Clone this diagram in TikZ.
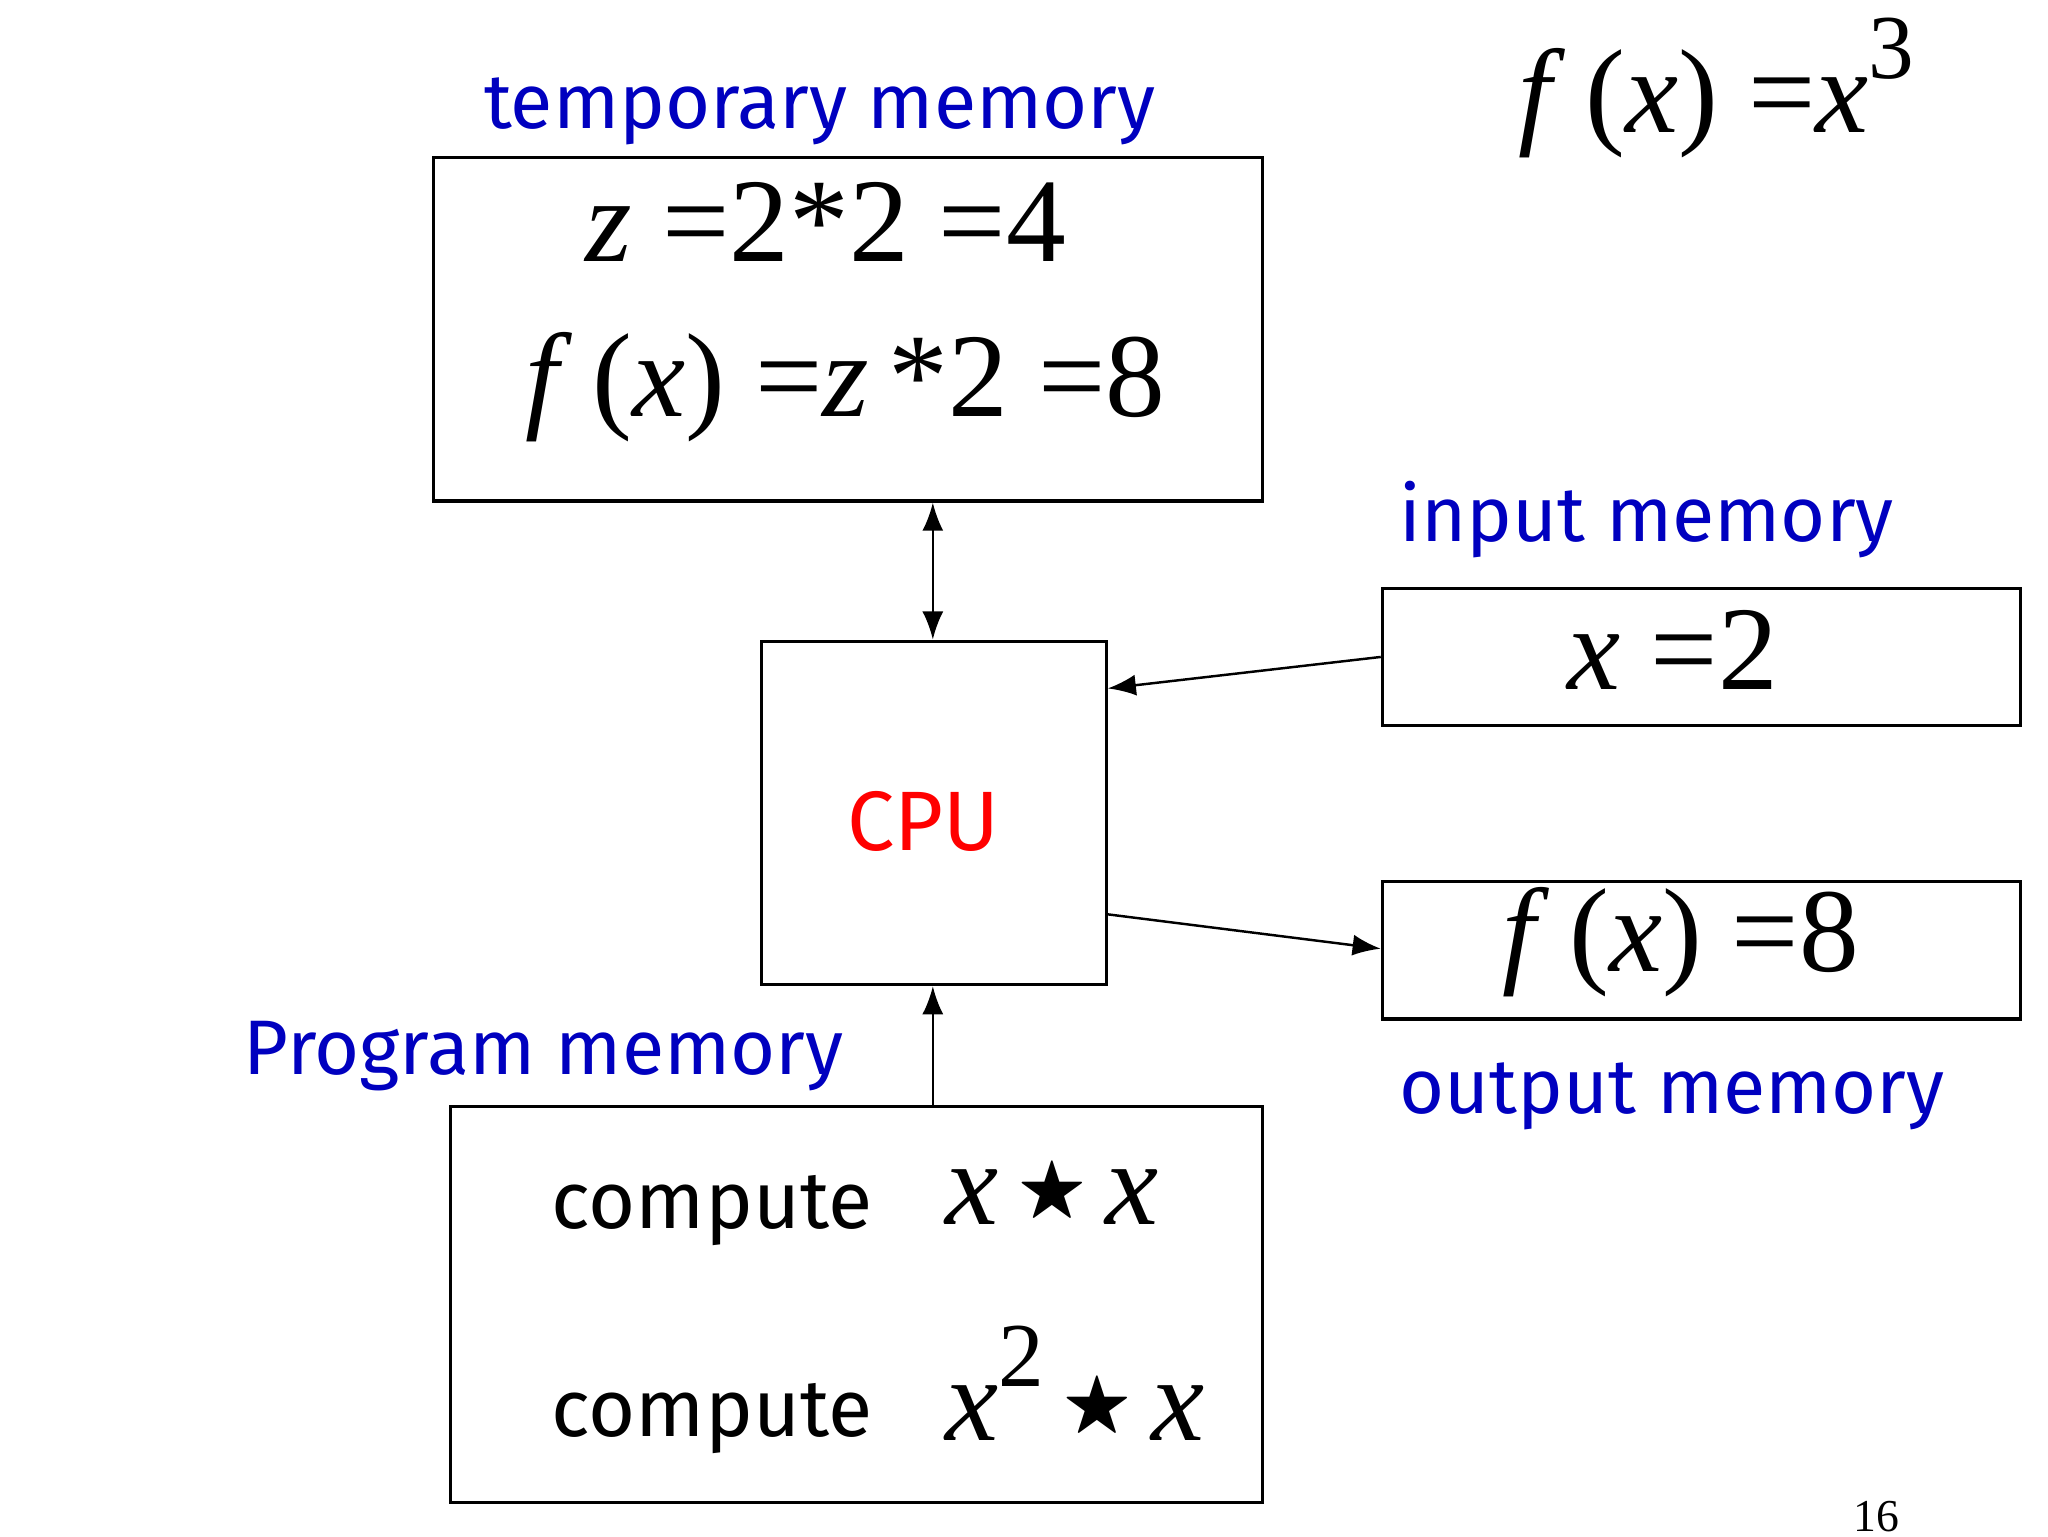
\documentclass[tikz,border=0pt]{standalone}
\usepackage{amssymb}
\usepackage{graphicx}
\usepackage{fontspec}
\setmainfont{Liberation Serif}
\newfontfamily\lbl{Fira Sans}
\usetikzlibrary{arrows.meta}
\newcommand{\mystar}{\,\raisebox{0.12em}{\scalebox{0.6}{$\bigstar$}}\,}
\begin{document}
\begin{tikzpicture}[x=0.013213cm,y=-0.013213cm,
 box/.style={draw,line width=0.9pt,inner sep=0pt},
 lab/.style={text=blue!75!black,font=\lbl\fontsize{22}{26}\selectfont,anchor=base west},
 mth/.style={font=\fontsize{34}{38}\selectfont},
 arr/.style={-{Latex[length=8pt,width=6pt]},line width=0.7pt}]
\useasboundingbox (0,0) rectangle (1550,1163);
\node[box,minimum width=627*0.013213cm,minimum height=260*0.013213cm,anchor=north west] (tmp) at (327,118) {};
\node[box,minimum width=261*0.013213cm,minimum height=260*0.013213cm,anchor=north west] (cpu) at (575,484) {};
\node[box,minimum width=483*0.013213cm,minimum height=104*0.013213cm,anchor=north west] (inp) at (1045,444) {};
\node[box,minimum width=483*0.013213cm,minimum height=104*0.013213cm,anchor=north west] (out) at (1045,666) {};
\node[box,minimum width=614*0.013213cm,minimum height=300*0.013213cm,anchor=north west] (prg) at (340,836) {};
\node[lab] (l1) at (357,97) {temporary memory};
\node[lab] (l2) at (1050,410) {input memory};
\node[lab] (l3) at (1050,843) {output memory};
\node[lab] (l4) at (175,813) {Program memory};
\node[text=red,font=\lbl\fontsize{24}{28}\selectfont] (c) at (699,622) {CPU};
\node[mth,anchor=base] (e1) at (625,198) {\textit{z} =2*2 =4};
\node[mth,anchor=base] (e2) at (640,315) {\textit{f}\,(\textit{x}) =\textit{z}\,*2 =8};
\node[mth,anchor=base] (e3) at (1266,522) {\textit{x} =2};
\node[mth,anchor=base] (e4) at (1272,735) {\textit{f}\,(\textit{x}) =8};
\node[mth,anchor=base west] (e5) at (1140,100) {\textit{f}\,(\textit{x}) =\textit{x}\raisebox{0.45em}{\fontsize{26}{28}\selectfont 3}};
\node[font=\lbl\fontsize{23}{27}\selectfont,anchor=base west] (p1) at (408,930) {compute};
\node[font=\lbl\fontsize{23}{27}\selectfont,anchor=base west] (p2) at (408,1087) {compute};
\node[mth,anchor=base west] (m1) at (706,927) {\textit{x}\mystar\textit{x}};
\node[mth,anchor=base west] (m2) at (706,1090) {\textit{x}\raisebox{0.45em}{\fontsize{26}{28}\selectfont 2}\mystar\textit{x}};
\node[font=\fontsize{13}{15}\selectfont] (pg) at (1420,1148) {16};
\draw[arr,{Latex[length=8pt,width=6pt]}-{Latex[length=8pt,width=6pt]}] (tmp.south -| 706,0) -- (cpu.north -| 706,0);
\draw[arr] (inp.west) -- (cpu.east |- 0,521);
\draw[arr] (cpu.east |- 0,692) -- (out.west |- 0,718);
\draw[arr] (prg.north -| 706,0) -- (cpu.south -| 706,0);
\end{tikzpicture}
\end{document}
